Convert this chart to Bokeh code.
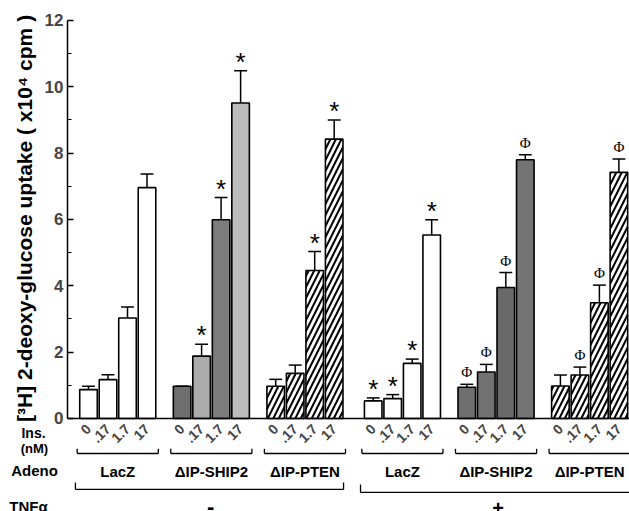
import numpy as np
from bokeh.plotting import figure
from bokeh.models import ColumnDataSource, FixedTicker, Range1d
from bokeh.core.properties import value
from bokeh.embed import file_html
from bokeh.resources import INLINE

# ---------------- data ----------------
tnf_levels = ["-", "+"]
adeno_groups = ["LacZ", "\u0394IP-SHIP2", "\u0394IP-PTEN"]
doses = ["0", ".17", "1.7", "17"]

# mean uptake (x10^4 cpm), one list per (TNF, adeno) group, doses 0/.17/1.7/17 nM
lacz_minus = [0.87, 1.17, 3.03, 6.96]
ship2_minus = [0.97, 1.88, 5.99, 9.51]
pten_minus = [0.97, 1.36, 4.46, 8.42]
lacz_plus = [0.53, 0.60, 1.66, 5.53]
ship2_plus = [0.94, 1.40, 3.95, 7.80]
pten_plus = [0.98, 1.31, 3.49, 7.42]

# upper end of error bar
lacz_minus_err = [0.97, 1.32, 3.36, 7.37]
ship2_minus_err = [0.97, 2.24, 6.66, 10.48]
pten_minus_err = [1.18, 1.61, 5.03, 9.00]
lacz_plus_err = [0.62, 0.72, 1.79, 5.99]
ship2_plus_err = [1.03, 1.63, 4.40, 7.95]
pten_plus_err = [1.31, 1.55, 4.02, 7.82]

# significance marks
lacz_minus_mark = ["", "", "", ""]
ship2_minus_mark = ["", "*", "*", "*"]
pten_minus_mark = ["", "", "*", "*"]
lacz_plus_mark = ["*", "*", "*", "*"]
ship2_plus_mark = ["\u03a6", "\u03a6", "\u03a6", "\u03a6"]
pten_plus_mark = ["", "\u03a6", "\u03a6", "\u03a6"]

y_ticks = [0, 2, 4, 6, 8, 10, 12]
y_minor_ticks = [1, 3, 5, 7, 9, 11]
y_label = "[\u00b3H] 2-deoxy-glucose uptake ( x10\u2074 cpm )"
row_labels = ["Ins.", "(nM)", "Adeno", "TNF\u03b1"]

groups = [
    (lacz_minus, lacz_minus_err, lacz_minus_mark),
    (ship2_minus, ship2_minus_err, ship2_minus_mark),
    (pten_minus, pten_minus_err, pten_minus_mark),
    (lacz_plus, lacz_plus_err, lacz_plus_mark),
    (ship2_plus, ship2_plus_err, ship2_plus_mark),
    (pten_plus, pten_plus_err, pten_plus_mark),
]

# ---------------- styles / layout ----------------
FONT = "Liberation Sans"
ship2_minus_colors = ["#6e6e6e", "#ababab", "#7c7c7c", "#bcbcbc"]
ship2_plus_colors = ["#6f6f6f", "#727272", "#6a6a6a", "#747474"]

GROUP_STEP = 4.8
TNF_GAP = 0.2
W = 0.9
X0 = -0.077          # x where the y axis sits
XR = (-3.513, 28.744)
YR = (-2.804, 12.60)

xs, tops, errs, marks, fills, hatches, dose_lab = [], [], [], [], [], [], []
group_centers = []
for g, (m, e, mk) in enumerate(groups):
    base = 1 + g * GROUP_STEP + (TNF_GAP if g >= 3 else 0)
    group_centers.append(base + 1.5)
    for i in range(4):
        xs.append(base + i)
        tops.append(m[i])
        errs.append(e[i])
        marks.append(mk[i])
        dose_lab.append(doses[i])
        a = g % 3
        if a == 0:
            fills.append("white"); hatches.append(" ")
        elif a == 1:
            fills.append(ship2_minus_colors[i] if g < 3 else ship2_plus_colors[i]); hatches.append(" ")
        else:
            fills.append("white"); hatches.append("/")

src = ColumnDataSource(dict(x=xs, top=tops, err=errs, mark=marks, fill=fills, hatch=hatches,
                            cl=[x - 0.33 for x in xs], cr=[x + 0.33 for x in xs]))

p = figure(width=629, height=511, output_backend="svg", toolbar_location=None,
           x_range=Range1d(*XR), y_range=Range1d(*YR),
           min_border_left=0, min_border_right=0, min_border_top=0, min_border_bottom=0)
p.outline_line_color = None
p.xgrid.grid_line_color = None
p.ygrid.grid_line_color = None
p.background_fill_color = "white"

p.vbar(x="x", top="top", bottom=0, width=W, source=src, fill_color="fill",
       line_color="black", line_width=1.6, hatch_pattern="hatch", hatch_color="black",
       hatch_scale=11, hatch_weight=2)
p.segment(x0="x", y0="top", x1="x", y1="err", source=src, line_color="black", line_width=1.5)
p.segment(x0="cl", y0="err", x1="cr", y1="err", source=src, line_color="black", line_width=1.5)

star_src = ColumnDataSource(dict(x=[x for x, mk in zip(xs, marks) if mk == "*"],
                                 y=[e for e, mk in zip(errs, marks) if mk == "*"],
                                 t=[mk for mk in marks if mk == "*"]))
phi_src = ColumnDataSource(dict(x=[x for x, mk in zip(xs, marks) if mk == "\u03a6"],
                                y=[e for e, mk in zip(errs, marks) if mk == "\u03a6"],
                                t=[mk for mk in marks if mk == "\u03a6"]))
p.text(x="x", y="y", text="t", source=star_src, text_align="center", text_baseline="alphabetic",
       text_font=value(FONT), text_font_size="26px", y_offset=-9, text_color="black")
p.text(x="x", y="y", text="t", source=phi_src, text_align="center", text_baseline="alphabetic",
       text_font=value("Liberation Serif"), text_font_size="15px", y_offset=-12, text_color="black")

# y axis (fixed inside the frame)
ya = p.yaxis[0]
ya.fixed_location = X0
ya.bounds = (0, 12)
ya.ticker = FixedTicker(ticks=y_ticks, minor_ticks=y_minor_ticks)
ya.major_tick_in = 6
ya.major_tick_out = 0
ya.minor_tick_in = 4
ya.minor_tick_out = 0
ya.axis_line_width = 1.5
ya.major_tick_line_width = 1.5
ya.major_label_standoff = 4
ya.major_label_text_font = FONT
ya.major_label_text_font_style = "bold"
ya.major_label_text_font_size = "17px"

# x axis (fixed at y = 0)
xa = p.xaxis[0]
xa.fixed_location = 0
xa.bounds = (X0, XR[1])
xa.ticker = FixedTicker(ticks=xs)
xa.major_label_overrides = {x: d for x, d in zip(xs, dose_lab)}
xa.major_label_orientation = np.pi / 4
xa.major_tick_in = 0
xa.major_tick_out = 0
xa.minor_tick_in = 0
xa.minor_tick_out = 0
xa.axis_line_width = 1.5
xa.major_label_standoff = 8
xa.major_label_text_font = FONT
xa.major_label_text_font_style = "bold"
xa.major_label_text_font_size = "14px"

# y axis title
p.text(x=[-2.28], y=[6.03], text=[y_label], angle=np.pi / 2, text_align="center",
       text_baseline="middle", text_font=value(FONT), text_font_style="bold",
       text_font_size="21px", text_color="black")

# row labels on the left
p.text(x=[-1.82, -1.77, -1.77, -2.08], y=[-0.437, -0.905, -1.57, -2.64], text=row_labels,
       text_align="center", text_baseline="middle", text_font=value(FONT),
       text_font_style="bold", text_font_size=["14px", "13px", "15px", "15px"],
       text_color="black")

# adeno group brackets and labels
bx0, by0, bx1, by1 = [], [], [], []
for g, c in enumerate(group_centers):
    l, r = c - 2.08, c + 2.08
    bx0 += [l, l, r]; by0 += [-1.055, -1.055, -1.055]
    bx1 += [r, l, r]; by1 += [-1.055, -0.915, -0.915]

# TNF brackets
l0, l1 = group_centers[0] - 2.17, group_centers[2] + 1.98
bx0 += [l0, l0, l1]; by0 += [-2.14, -2.14, -2.14]
bx1 += [l1, l0, l1]; by1 += [-2.14, -1.93, -1.93]
r0 = group_centers[3] - 2.15
bx0 += [r0, r0]; by0 += [-2.23, -2.23]
bx1 += [XR[1] + 1, r0]; by1 += [-2.23, -1.99]
p.segment(x0=bx0, y0=by0, x1=bx1, y1=by1, line_color="black", line_width=1.3)

p.text(x=group_centers, y=[-1.6] * 6, text=adeno_groups * 2, text_align="center",
       text_baseline="middle", text_font=value(FONT), text_font_style="bold",
       text_font_size="15px", text_color="black")
p.text(x=[7.26, 22.0], y=[-2.65, -2.71], text=tnf_levels, text_align="center",
       text_baseline="middle", text_font=value(FONT), text_font_style="bold",
       text_font_size=["22px", "20px"], text_color="black")

open("out.html", "w").write(file_html(p, INLINE))
